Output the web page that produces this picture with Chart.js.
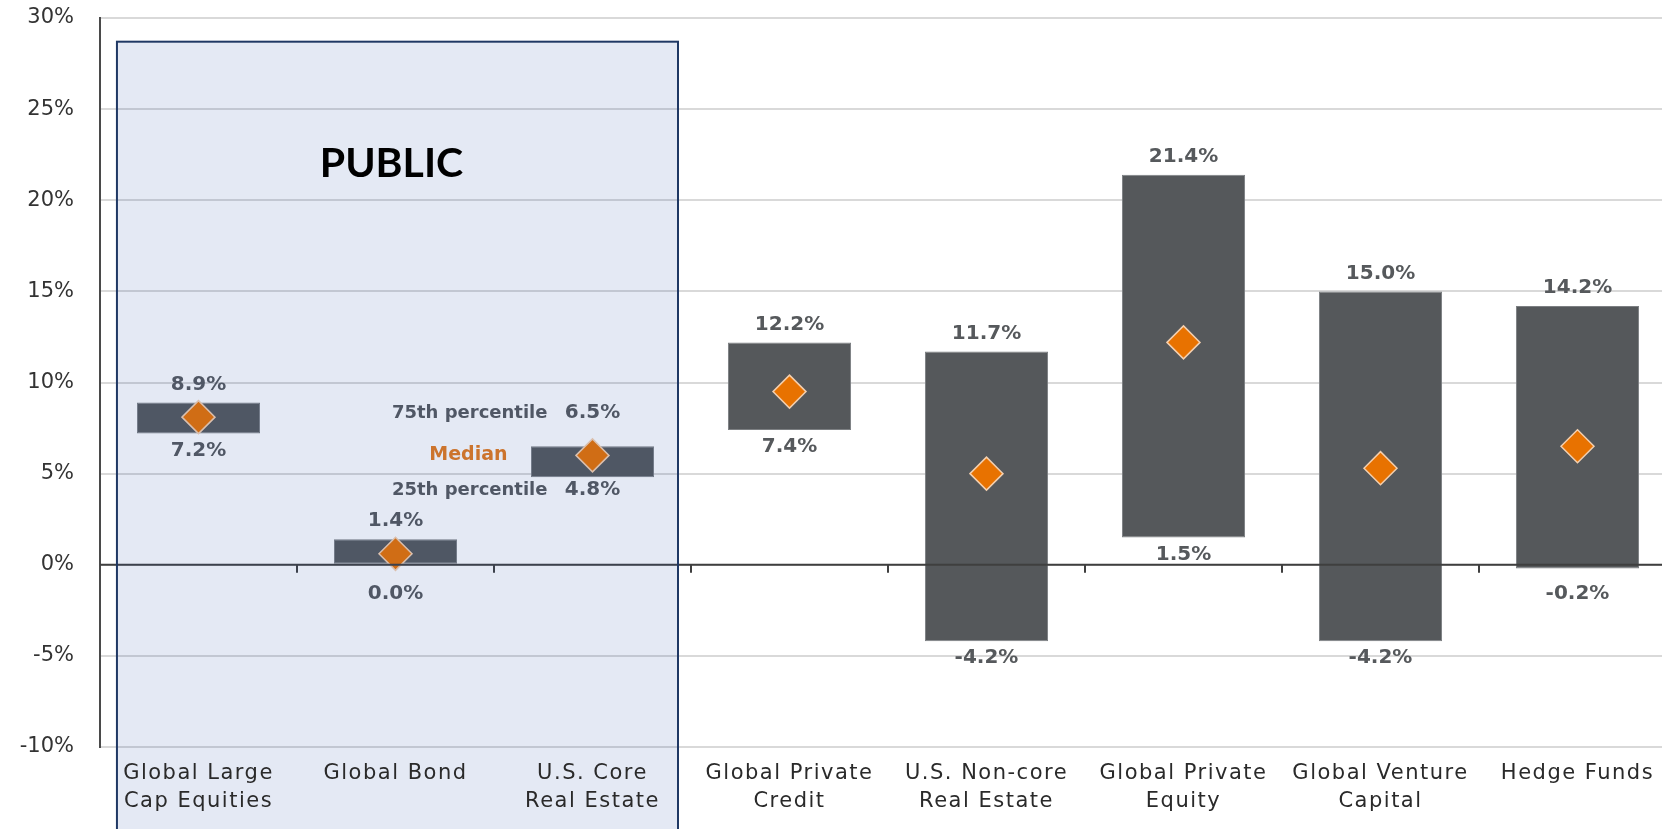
<!DOCTYPE html>
<html>
<head>
<meta charset="utf-8">
<title>Return ranges by asset class</title>
<script src="https://cdn.jsdelivr.net/npm/chart.js"></script>
<style>
  html, body { margin: 0; padding: 0; background: #fff; overflow: hidden; }
  #wrap { width: 1694px; height: 829px; }
</style>
</head>
<body>
<div id="wrap"><canvas id="myChart" width="1694" height="829"></canvas></div>
<script>
// asset classes, the first three are the public ones
var categories = [
  ['Global Large', 'Cap Equities'],
  ['Global Bond'],
  ['U.S. Core', 'Real Estate'],
  ['Global Private', 'Credit'],
  ['U.S. Non-core', 'Real Estate'],
  ['Global Private', 'Equity'],
  ['Global Venture', 'Capital'],
  ['Hedge Funds']
];
var p75 = [8.9, 1.4, 6.5, 12.2, 11.7, 21.4, 15.0, 14.2];
var p25 = [7.2, 0.0, 4.8, 7.4, -4.2, 1.5, -4.2, -0.2];
var medians = [8.1, 0.6, 6.0, 9.5, 5.0, 12.2, 5.3, 6.5];
var yTicks = [-10, -5, 0, 5, 10, 15, 20, 25, 30];
var publicCount = 3;
var keyIndex = 2; // bar that carries the percentile / median key

function pct(v) {
  return v.toFixed(1) + '%';
}

var extras = {
  id: 'extras',
  afterDatasetsDraw: function (chart) {
    var ctx = chart.ctx;
    var x = chart.scales.x, y = chart.scales.y, area = chart.chartArea;
    var zero = y.getPixelForValue(0);
    ctx.save();

    // zero line with small ticks between categories
    ctx.strokeStyle = '#3f3f3f';
    ctx.lineWidth = 2;
    ctx.beginPath();
    ctx.moveTo(area.left, zero);
    ctx.lineTo(area.right, zero);
    for (var i = 1; i <= categories.length; i++) {
      var tx = Math.round(x.getPixelForValue(i - 0.5));
      ctx.moveTo(tx, zero);
      ctx.lineTo(tx, zero + 8);
    }
    ctx.stroke();

    // 75th / 25th labels
    ctx.font = 'bold 20px "DejaVu Sans"';
    ctx.fillStyle = '#56595c';
    ctx.textAlign = 'center';
    ctx.textBaseline = 'middle';
    for (var i = 0; i < categories.length; i++) {
      var cx = x.getPixelForValue(i);
      var top = y.getPixelForValue(p75[i]);
      var bot = y.getPixelForValue(p25[i]);
      var topY = top - 18, botY = bot + 17;
      if (i == keyIndex) {
        topY = top - 33;
        botY = bot + 13;
      }
      if (Math.abs(p25[i]) < 1) botY = zero + 29;
      ctx.fillText(pct(p75[i]), cx, topY);
      ctx.fillText(pct(p25[i]), cx, botY);
    }

    // key next to the U.S. Core bar
    var kx = x.getPixelForValue(keyIndex);
    ctx.textAlign = 'right';
    ctx.font = 'bold 18px "DejaVu Sans"';
    ctx.fillText('75th percentile', kx - 45, y.getPixelForValue(p75[keyIndex]) - 33);
    ctx.fillText('25th percentile', kx - 45, y.getPixelForValue(p25[keyIndex]) + 13);
    ctx.fillStyle = '#e47a1c';
    ctx.font = 'bold 19px "DejaVu Sans"';
    ctx.fillText('Median', kx - 85, y.getPixelForValue(medians[keyIndex]));

    // public box
    var bl = x.getPixelForValue(-0.414);
    var br = x.getPixelForValue(publicCount - 1 + 0.434);
    var bt = y.getPixelForValue(28.7);
    ctx.fillStyle = 'rgba(40, 80, 170, 0.125)';
    ctx.fillRect(bl, bt, br - bl, chart.height - bt + 10);
    ctx.strokeStyle = '#1f3864';
    ctx.lineWidth = 2;
    ctx.strokeRect(bl, bt, br - bl, chart.height - bt + 10);

    ctx.fillStyle = '#000';
    ctx.textAlign = 'center';
    ctx.font = 'bold 41px Lato';
    ctx.fillText('PUBLIC', (bl + br) / 2 - 6, y.getPixelForValue(22));

    // axis labels
    ctx.font = '21px "DejaVu Sans"';
    ctx.fillStyle = '#333';
    ctx.textAlign = 'right';
    y.ticks.forEach(function (t) {
      ctx.fillText(t.value + '%', area.left - 26, y.getPixelForValue(t.value));
    });

    ctx.textAlign = 'center';
    ctx.fillStyle = '#2a2a2a';
    ctx.letterSpacing = '1.5px';
    for (var i = 0; i < categories.length; i++) {
      var cx = x.getPixelForValue(i);
      for (var j = 0; j < categories[i].length; j++) {
        ctx.fillText(categories[i][j], cx, area.bottom + 27 + j * 28);
      }
    }
    ctx.restore();
  }
};

var ctx = document.getElementById('myChart');

new Chart(ctx, {
  type: 'bar',
  data: {
    labels: categories,
    datasets: [{
      type: 'line',
      label: 'Median',
      data: medians,
      showLine: false,
      pointStyle: 'rectRot',
      pointRadius: 16.5,
      pointBackgroundColor: '#e87200',
      pointBorderColor: '#f4cfae',
      pointBorderWidth: 1.5,
      order: 0
    }, {
      label: '25th - 75th percentile',
      data: p25.map(function (lo, i) { return [lo, p75[i]]; }),
      backgroundColor: '#55585b',
      borderColor: '#7c7f82',
      borderWidth: 1,
      borderSkipped: false,
      barPercentage: 0.625,
      categoryPercentage: 1,
      order: 1
    }]
  },
  options: {
    responsive: false,
    animation: false,
    layout: { padding: { left: 100, top: 18, right: 0, bottom: 74 } },
    plugins: {
      legend: { display: false },
      tooltip: { enabled: false }
    },
    scales: {
      x: {
        grid: { display: false },
        border: { display: false },
        ticks: { display: false }
      },
      y: {
        min: -10,
        max: 30,
        afterBuildTicks: function (scale) {
          scale.ticks = yTicks.map(function (v) { return { value: v }; });
        },
        ticks: { display: false },
        grid: { color: '#d9d9d9', lineWidth: 2, drawTicks: false },
        border: { color: '#4a4a4a', width: 2 }
      }
    }
  },
  plugins: [extras]
});
</script>
</body>
</html>
